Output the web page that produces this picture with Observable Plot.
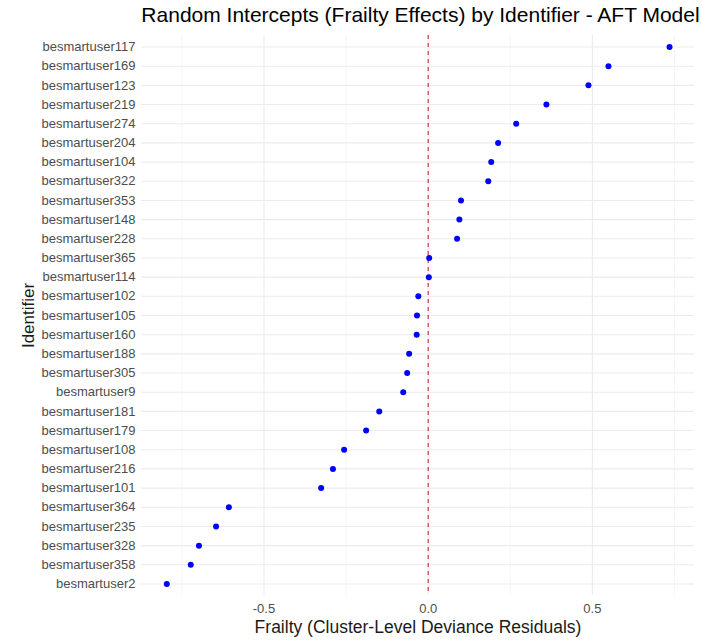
<!DOCTYPE html>
<html><head><meta charset="utf-8">
<script src="https://cdn.jsdelivr.net/npm/d3@7"></script>
<script src="https://cdn.jsdelivr.net/npm/@observablehq/plot@0.6"></script>
<style>
body{margin:0;background:#fff;font-family:"Liberation Sans",Arial,sans-serif;}
#title{height:30px;line-height:30px;font-size:21px;color:#000;width:561px;margin-left:140px;text-align:center;white-space:nowrap;}
</style></head><body>
<div id="title">Random Intercepts (Frailty Effects) by Identifier - AFT Model</div>
<div id="chart"></div>
<script>
const identifiers = ["besmartuser117","besmartuser169","besmartuser123","besmartuser219","besmartuser274","besmartuser204","besmartuser104","besmartuser322","besmartuser353","besmartuser148","besmartuser228","besmartuser365","besmartuser114","besmartuser102","besmartuser105","besmartuser160","besmartuser188","besmartuser305","besmartuser9","besmartuser181","besmartuser179","besmartuser108","besmartuser216","besmartuser101","besmartuser364","besmartuser235","besmartuser328","besmartuser358","besmartuser2"];
const frailty = [0.735,0.549,0.488,0.360,0.268,0.213,0.192,0.183,0.100,0.095,0.088,0.003,0.002,-0.030,-0.034,-0.035,-0.058,-0.064,-0.076,-0.149,-0.189,-0.256,-0.290,-0.326,-0.607,-0.646,-0.698,-0.723,-0.796];
const majorTicks = [-0.5, 0, 0.5];
const minorTicks = [-0.75, -0.25, 0.25, 0.75];
const refLine = [0];
const xTitle = "Frailty (Cluster-Level Deviance Residuals)";
const yTitle = "Identifier";

const data = identifiers.map((id, i) => ({id, frailty: frailty[i]}));

const chart = Plot.plot({
  width: 702, height: 611,
  marginTop: 5, marginBottom: 46, marginLeft: 141, marginRight: 8,
  x: {domain: [-0.873, 0.811]},
  y: {domain: identifiers, padding: 0.6, round: false},
  style: {fontFamily: "Liberation Sans, Arial, sans-serif", fontSize: "13px", color: "#4d4d4d", background: "white"},
  marks: [
    Plot.ruleY(identifiers, {y: d => d, stroke: "#ebebeb", strokeWidth: 1.1}),
    Plot.ruleX(minorTicks, {x: d => d, stroke: "#f0f0f0", strokeWidth: 0.7}),
    Plot.ruleX(majorTicks, {x: d => d, stroke: "#ebebeb", strokeWidth: 1.1}),
    Plot.ruleX(refLine, {x: d => d, stroke: "#c62a2a", strokeDasharray: "4,4", strokeWidth: 1.1}),
    Plot.dot(data, {x: "frailty", y: "id", r: 3, fill: "#0000ff", stroke: "none"}),
    Plot.axisX({ticks: majorTicks, tickSize: 0, tickPadding: 8, label: null, tickFormat: d => d.toFixed(1), fontSize: 13}),
    Plot.axisY({tickSize: 0, tickPadding: 6, label: null, fontSize: 13}),
    Plot.text([xTitle], {text: d => d, frameAnchor: "bottom", dy: 37, fontSize: 17.5, fill: "#1a1a1a"}),
    Plot.text([yTitle], {text: d => d, frameAnchor: "left", textAnchor: "middle", dx: -113, rotate: -90, fontSize: 17, fill: "#1a1a1a"})
  ]
});
document.getElementById("chart").appendChild(chart);
</script>
</body></html>
